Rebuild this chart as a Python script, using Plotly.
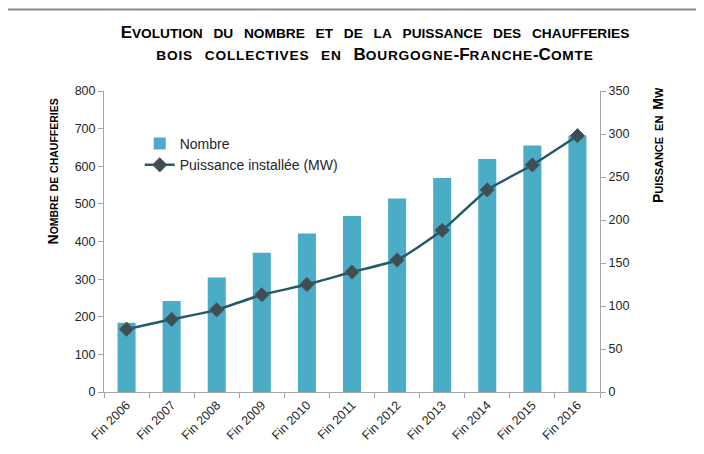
import plotly.graph_objects as go

categories = ["Fin 2006", "Fin 2007", "Fin 2008", "Fin 2009", "Fin 2010", "Fin 2011",
              "Fin 2012", "Fin 2013", "Fin 2014", "Fin 2015", "Fin 2016"]
nombre = [184, 242, 304, 370, 421, 468, 514, 569, 619, 655, 682]
puissance = [73, 84.5, 95.5, 113, 125, 139.5, 153.5, 188, 235, 264, 298]

left_ticks = [0, 100, 200, 300, 400, 500, 600, 700, 800]
right_ticks = [0, 50, 100, 150, 200, 250, 300, 350]

title_lines = ["Evolution du nombre et de la puissance des chaufferies",
               "bois collectives en Bourgogne-Franche-Comte"]
left_title = "Nombre de chaufferies"
right_title = "Puissance en Mw"

FONT = "Arial, Liberation Sans, sans-serif"
AXIS_COLOR = "#A6A6A6"


def small_caps(text, small_px, word_px=0, letter_px=0):
    """Render text as small caps: capitals at full size, lowercase as smaller capitals."""
    out = []
    buf = ""
    ls = f";letter-spacing:{letter_px}px" if letter_px else ""
    for ch in text:
        if ch.islower():
            buf += ch.upper()
        else:
            if buf:
                out.append(f"<span style='font-size:{small_px}px{ls}'>{buf}</span>")
                buf = ""
            if ch == " " and word_px:
                out.append(f"<span style='letter-spacing:{word_px}px'> </span>")
            else:
                out.append(ch)
    if buf:
        out.append(f"<span style='font-size:{small_px}px{ls}'>{buf}</span>")
    return "".join(out)


fig = go.Figure()
fig.add_trace(go.Bar(
    x=categories, y=nombre, name="Nombre",
    marker=dict(color="#4BACC6", line=dict(width=0)),
    width=0.4, yaxis="y",
))
fig.add_trace(go.Scatter(
    x=categories, y=puissance, name="Puissance installée (MW)",
    mode="lines+markers", yaxis="y2",
    line=dict(color="#215B69", width=2.5, shape="spline", smoothing=0.5),
    marker=dict(symbol="diamond", size=11, color="#3D4F55",
                line=dict(color="#55595B", width=1)),
))

title_text = (small_caps(title_lines[0], 13.7, 6) + "<br>"
              + small_caps(title_lines[1], 13.7, 7, 0.8))

fig.update_layout(
    width=704, height=454,
    margin=dict(l=96, r=112, t=83, b=70),
    paper_bgcolor="white", plot_bgcolor="white",
    font=dict(family=FONT, size=12, color="#262626"),
    showlegend=True,
    legend=dict(x=0.072, y=0.877, xanchor="left", yanchor="top",
                bgcolor="rgba(0,0,0,0)", font=dict(size=14, color="#262626")),
    title=dict(
        text=title_text,
        x=0.5213, xref="container", xanchor="center",
        y=0.935, yref="container", yanchor="top",
        font=dict(family=FONT, size=17, color="#000000", weight="bold"),
    ),
    xaxis=dict(
        type="category", range=[-0.5, len(categories) - 0.5],
        tickangle=-45, tickson="boundaries",
        ticks="outside", ticklen=5, tickcolor=AXIS_COLOR,
        showline=True, linecolor=AXIS_COLOR, linewidth=1,
        showgrid=False, tickfont=dict(size=12.5, color="#262626"),
    ),
    yaxis=dict(
        range=[0, 800], tickvals=left_ticks, ticks="outside", ticklen=5,
        tickcolor=AXIS_COLOR, showline=True, linecolor=AXIS_COLOR, linewidth=1,
        showgrid=False, zeroline=False, tickfont=dict(size=12.5, color="#262626"),
    ),
    yaxis2=dict(
        range=[0, 350], tickvals=right_ticks, overlaying="y", side="right",
        ticks="outside", ticklen=5, tickcolor=AXIS_COLOR,
        showline=True, linecolor=AXIS_COLOR, linewidth=1,
        showgrid=False, zeroline=False, tickfont=dict(size=12.5, color="#262626"),
    ),
    bargap=0.6,
)

fig.add_annotation(
    text=small_caps(left_title, 10.5), textangle=-90,
    xref="paper", yref="paper", x=-0.1028, y=0.7326,
    xanchor="center", yanchor="middle", showarrow=False,
    font=dict(family=FONT, size=14, color="#000000", weight="bold"),
)
fig.add_annotation(
    text=small_caps(right_title, 11, 2), textangle=-90,
    xref="paper", yref="paper", x=1.117, y=0.8206,
    xanchor="center", yanchor="middle", showarrow=False,
    font=dict(family=FONT, size=14, color="#000000", weight="bold"),
)

# chart frame (cropped at right and bottom)
fig.add_shape(type="line", xref="paper", yref="paper",
              x0=-0.1956, y0=1.2708, x1=1.3, y1=1.2708,
              line=dict(color="#8C8C8C", width=2))
fig.add_shape(type="line", xref="paper", yref="paper",
              x0=-0.1956, y0=1.2708, x1=-0.1956, y1=-0.3,
              line=dict(color="#8C8C8C", width=2))

fig.write_html("out.html")
